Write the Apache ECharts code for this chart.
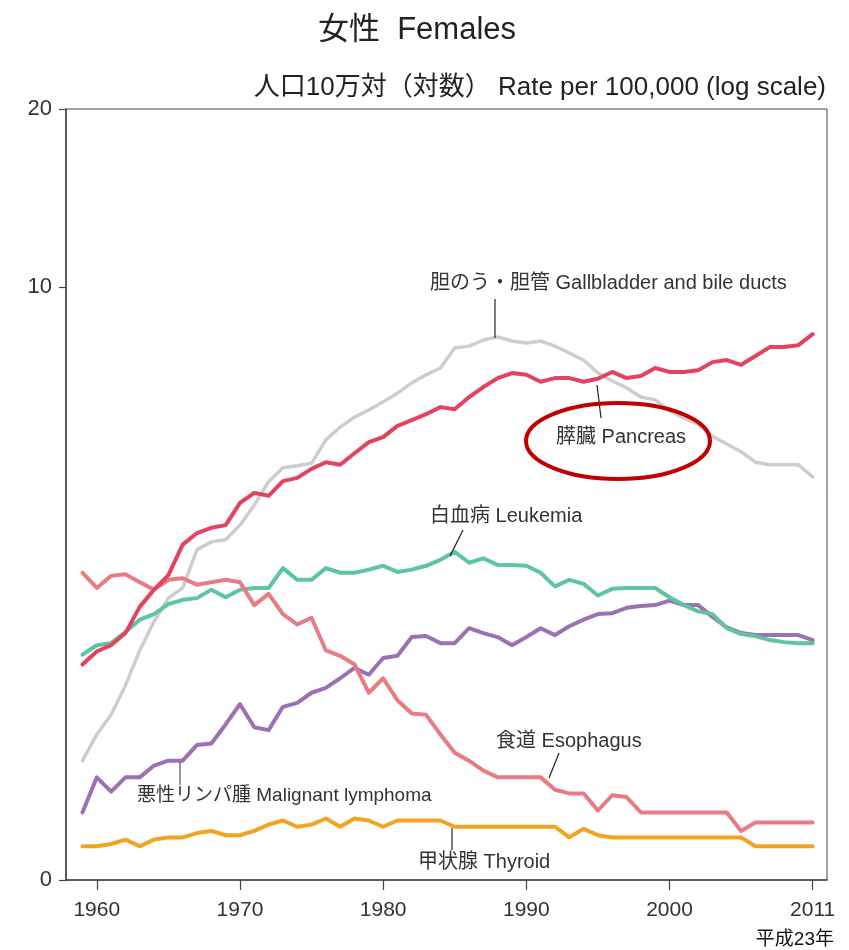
<!DOCTYPE html>
<html>
<head>
<meta charset="utf-8">
<script src="https://cdn.jsdelivr.net/npm/echarts@6/dist/echarts.min.js"></script>
<style>html,body{margin:0;padding:0;background:#fff}#c{width:849px;height:950px}</style>
</head>
<body>
<div id="c"></div>
<script>
var years = [1959,1960,1961,1962,1963,1964,1965,1966,1967,1968,1969,
1970,1971,1972,1973,1974,1975,1976,1977,1978,1979,
1980,1981,1982,1983,1984,1985,1986,1987,1988,1989,
1990,1991,1992,1993,1994,1995,1996,1997,1998,1999,
2000,2001,2002,2003,2004,2005,2006,2007,2008,2009,2010];

var gallbladder = [1.59,1.76,1.90,2.13,2.44,2.73,2.99,3.11,3.61,3.72,3.75,
3.97,4.29,4.70,4.96,5.00,5.05,5.53,5.81,6.04,6.21,
6.41,6.63,6.90,7.12,7.31,7.90,7.96,8.15,8.25,8.12,
8.06,8.12,7.96,7.75,7.54,7.17,6.95,6.77,6.53,6.46,
6.19,6.02,5.88,5.61,5.44,5.28,5.07,5.02,5.02,5.02,4.79];

var pancreas = [2.31,2.43,2.49,2.61,2.89,3.09,3.27,3.68,3.85,3.93,3.97,
4.33,4.50,4.45,4.71,4.77,4.94,5.07,5.02,5.25,5.48,
5.59,5.84,5.97,6.11,6.28,6.23,6.53,6.79,7.03,7.17,
7.12,6.93,7.03,7.03,6.93,7.01,7.20,7.03,7.09,7.31,
7.20,7.20,7.25,7.48,7.54,7.40,7.66,7.93,7.93,7.99,8.34];

var leukemia = [2.40,2.49,2.51,2.62,2.75,2.81,2.92,2.97,2.99,3.09,3.00,
3.09,3.11,3.11,3.36,3.21,3.21,3.36,3.30,3.30,3.34,
3.39,3.31,3.34,3.39,3.47,3.58,3.43,3.49,3.40,3.40,
3.39,3.30,3.13,3.21,3.16,3.02,3.10,3.11,3.11,3.11,
3.00,2.91,2.84,2.81,2.66,2.60,2.58,2.54,2.52,2.51,2.51];

var lymphoma = [1.30,1.49,1.41,1.49,1.49,1.56,1.59,1.59,1.69,1.70,1.83,
1.98,1.81,1.79,1.96,1.99,2.07,2.11,2.19,2.28,2.22,
2.37,2.39,2.57,2.58,2.51,2.51,2.66,2.61,2.57,2.49,
2.57,2.66,2.59,2.68,2.75,2.81,2.82,2.88,2.90,2.91,
2.96,2.91,2.91,2.78,2.67,2.61,2.59,2.59,2.59,2.59,2.54];

var esophagus = [3.30,3.11,3.26,3.28,3.18,3.09,3.21,3.23,3.15,3.18,3.21,
3.18,2.91,3.04,2.81,2.70,2.77,2.44,2.39,2.31,2.07,
2.19,2.01,1.91,1.90,1.76,1.64,1.59,1.53,1.49,1.49,
1.49,1.49,1.42,1.40,1.40,1.31,1.39,1.38,1.30,1.30,
1.30,1.30,1.30,1.30,1.30,1.21,1.25,1.25,1.25,1.25,1.25];

var thyroid = [1.14,1.14,1.15,1.17,1.14,1.17,1.18,1.18,1.20,1.21,1.19,
1.19,1.21,1.24,1.26,1.23,1.24,1.27,1.23,1.27,1.26,
1.23,1.26,1.26,1.26,1.26,1.23,1.23,1.23,1.23,1.23,
1.23,1.23,1.23,1.18,1.22,1.19,1.18,1.18,1.18,1.18,
1.18,1.18,1.18,1.18,1.18,1.18,1.14,1.14,1.14,1.14,1.14];

var xTickValues = [1960,1970,1980,1990,2000,2010];
var xTickLabels = ['1960','1970','1980','1990','2000','2011'];
var yTickValues = [1,10,20];
var yTickLabels = ['0','10','20'];

function pairs(vals){ return years.map(function(y,i){ return [y, vals[i]]; }); }

var FONT = "'Liberation Sans','Noto Sans CJK JP',sans-serif";
var chart = echarts.init(document.getElementById('c'), null, {renderer:'canvas'});

function mkSeries(name, vals, color, w){
  return {name:name, type:'line', data:pairs(vals), showSymbol:false, symbol:'none',
    lineStyle:{color:color, width:w, join:'round', cap:'round'}, itemStyle:{color:color}, silent:true, z:2};
}

var option = {
  animation:false,
  backgroundColor:'#ffffff',
  grid:{left:66, right:22, top:109, bottom:70, show:true, borderColor:'#444', borderWidth:1, backgroundColor:'transparent'},
  xAxis:{type:'value', min:1957.85, max:2011,
    axisLine:{show:true, lineStyle:{color:'#444', width:1.5}},
    axisTick:{show:true, inside:false, length:10, lineStyle:{color:'#444', width:1.2}, customValues:xTickValues},
    axisLabel:{customValues:xTickValues, margin:20, fontSize:21, color:'#333', fontFamily:FONT,
      formatter:function(v){ var i = xTickValues.indexOf(Math.round(v)); return i>=0 ? xTickLabels[i] : ''; }},
    splitLine:{show:false}},
  yAxis:{type:'log', logBase:10, min:1, max:20,
    axisLine:{show:true, lineStyle:{color:'#444', width:1.5}},
    axisTick:{show:true, inside:false, length:7, lineStyle:{color:'#444', width:1.2}, customValues:yTickValues},
    axisLabel:{customValues:yTickValues, margin:14, fontSize:22, color:'#333', fontFamily:FONT,
      formatter:function(v){ var i = yTickValues.indexOf(Math.round(v)); return i>=0 ? yTickLabels[i] : ''; }},
    splitLine:{show:false}},
  series:[
    mkSeries('胆のう・胆管', gallbladder, '#cdcdcd', 3.5),
    mkSeries('悪性リンパ腫', lymphoma, '#9a72b3', 4),
    mkSeries('白血病', leukemia, '#5fc4a1', 4),
    mkSeries('食道', esophagus, '#e97b83', 4),
    mkSeries('甲状腺', thyroid, '#f2a31f', 4),
    mkSeries('膵臓', pancreas, '#e4435f', 4)
  ],
  graphic:[
    {type:'text', z:10, style:{text:'女性  Females', x:417, y:30, textAlign:'center', textVerticalAlign:'middle', font:"31px "+FONT, fill:'#222'}},
    {type:'text', z:10, style:{text:'人口10万対（対数） Rate per 100,000 (log scale)', x:826, y:88, textAlign:'right', textVerticalAlign:'middle', font:"26px "+FONT, fill:'#222'}},
    {type:'text', z:10, style:{text:'平成23年', x:834, y:940, textAlign:'right', textVerticalAlign:'middle', font:"19px "+FONT, fill:'#111'}},

    {type:'text', z:10, style:{text:'胆のう・胆管 Gallbladder and bile ducts', x:430, y:283, textAlign:'left', textVerticalAlign:'middle', font:"20px "+FONT, fill:'#333'}},
    {type:'line', z:10, shape:{x1:495, y1:299, x2:495, y2:338}, style:{stroke:'#222', lineWidth:1.2}},

    {type:'text', z:10, style:{text:'膵臓 Pancreas', x:556, y:437, textAlign:'left', textVerticalAlign:'middle', font:"20px "+FONT, fill:'#333'}},
    {type:'line', z:10, shape:{x1:597, y1:385, x2:601, y2:418}, style:{stroke:'#222', lineWidth:1.2}},
    {type:'ellipse', z:10, shape:{cx:618, cy:441, rx:92, ry:38}, style:{fill:'none', stroke:'#c00000', lineWidth:4}},

    {type:'text', z:10, style:{text:'白血病 Leukemia', x:430, y:516, textAlign:'left', textVerticalAlign:'middle', font:"20px "+FONT, fill:'#333'}},
    {type:'line', z:10, shape:{x1:463, y1:530, x2:450, y2:556}, style:{stroke:'#222', lineWidth:1.2}},

    {type:'text', z:10, style:{text:'悪性リンパ腫 Malignant lymphoma', x:137, y:796, textAlign:'left', textVerticalAlign:'middle', font:"19px "+FONT, fill:'#333'}},
    {type:'line', z:10, shape:{x1:180, y1:762, x2:180, y2:785}, style:{stroke:'#555', lineWidth:1.2}},

    {type:'text', z:10, style:{text:'食道 Esophagus', x:496, y:741, textAlign:'left', textVerticalAlign:'middle', font:"20px "+FONT, fill:'#333'}},
    {type:'line', z:10, shape:{x1:559, y1:753, x2:549, y2:778}, style:{stroke:'#222', lineWidth:1.2}},

    {type:'text', z:10, style:{text:'甲状腺 Thyroid', x:418, y:862, textAlign:'left', textVerticalAlign:'middle', font:"20px "+FONT, fill:'#333'}},
    {type:'line', z:10, shape:{x1:452, y1:828, x2:452, y2:850}, style:{stroke:'#222', lineWidth:1.2}}
  ]
};
chart.setOption(option);
</script>
</body>
</html>
